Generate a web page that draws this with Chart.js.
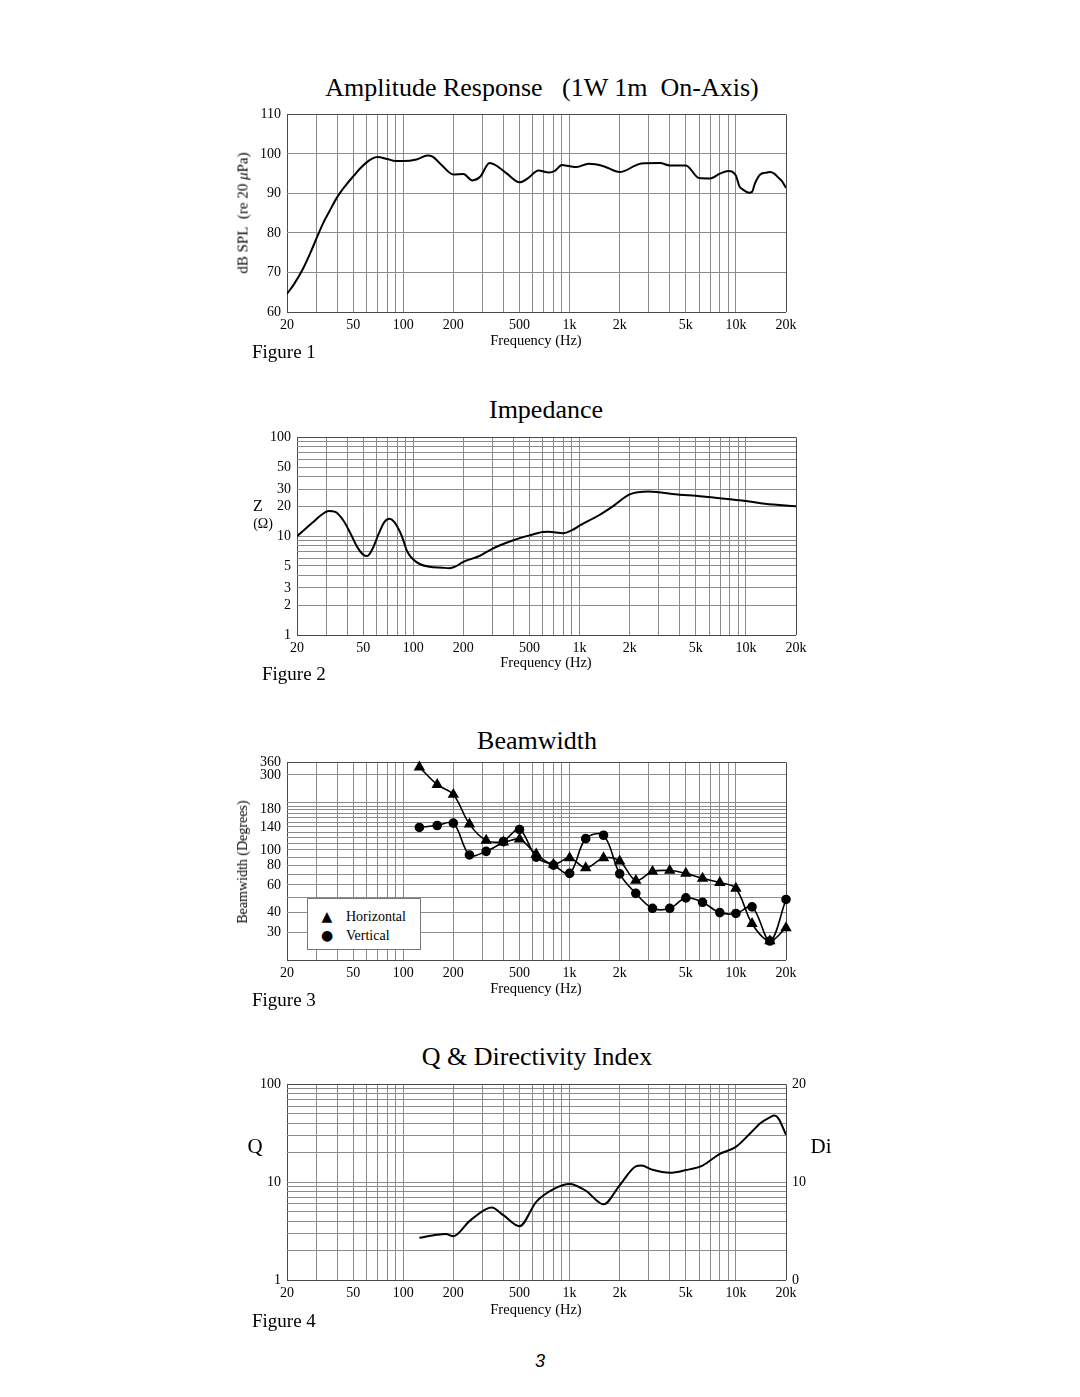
<!DOCTYPE html>
<html>
<head>
<meta charset="utf-8">
<script src="https://cdn.jsdelivr.net/npm/chart.js@4.4.1/dist/chart.umd.min.js"></script>
<style>
  body{margin:0;background:#fff;width:1080px;height:1397px;position:relative;overflow:hidden;
       font-family:'Liberation Serif','Times New Roman',serif;color:#000}
  .t{position:absolute;transform:translate(-50%,-50%);white-space:nowrap;line-height:1}
  .title{font-size:26px}
  .fig{position:absolute;font-size:19px;line-height:1;transform:translateY(-50%)}
  .freq{font-size:14.5px}
  .rot{transform:translate(-50%,-50%) rotate(-90deg);font-size:15px}
  .box{position:absolute}
  .legend{position:absolute;left:307px;top:898px;width:112px;height:50px;border:1px solid #777;background:#fff;z-index:2;font-size:14px}
  .legend div{position:absolute;left:0;white-space:nowrap;line-height:1}
  .legend span{display:inline-block;width:38px;text-align:center;font-family:'DejaVu Sans',sans-serif}
</style>
</head>
<body>

<div class="t title" style="left:542px;top:88px">Amplitude Response&nbsp;&nbsp; (1W 1m&nbsp; On-Axis)</div>
<div class="box" id="box-spl"><canvas id="chart-spl"></canvas></div>
<div class="t rot" style="left:243px;top:213px">dB SPL&nbsp; (re 20 <i>μ</i>Pa)</div>
<div class="t freq" style="left:536px;top:340px">Frequency (Hz)</div>
<div class="fig" style="left:252px;top:351px">Figure 1</div>

<div class="t title" style="left:546px;top:410px">Impedance</div>
<div class="box" id="box-z"><canvas id="chart-z"></canvas></div>
<div class="t" style="left:258px;top:506px;font-size:16px">Z</div>
<div class="t" style="left:263px;top:524px;font-size:14px">(Ω)</div>
<div class="t freq" style="left:546px;top:662px">Frequency (Hz)</div>
<div class="fig" style="left:262px;top:673px">Figure 2</div>

<div class="t title" style="left:537px;top:741px">Beamwidth</div>
<div class="box" id="box-bw"><canvas id="chart-bw"></canvas></div>
<div class="t rot" style="left:243px;top:862px;font-size:14px">Beamwidth (Degrees)</div>
<div class="legend">
  <div style="top:10px"><span>▲</span>Horizontal</div>
  <div style="top:29px"><span>●</span>Vertical</div>
</div>
<div class="t freq" style="left:536px;top:988px">Frequency (Hz)</div>
<div class="fig" style="left:252px;top:999px">Figure 3</div>

<div class="t title" style="left:537px;top:1057px">Q &amp; Directivity Index</div>
<div class="box" id="box-q"><canvas id="chart-q"></canvas></div>
<div class="t" style="left:255px;top:1146px;font-size:21px">Q</div>
<div class="t" style="left:821px;top:1146px;font-size:21px">Di</div>
<div class="t freq" style="left:536px;top:1309px">Frequency (Hz)</div>
<div class="fig" style="left:252px;top:1320px">Figure 4</div>

<div class="t" style="left:540px;top:1361px;font-size:18px;font-family:'Liberation Sans',sans-serif;font-style:italic">3</div>

<script>
// ── Frequency axis shared by the four figures ──
const FREQ_GRID    = [20,30,40,50,60,70,80,90,100,200,300,400,500,600,700,800,900,
                      1000,2000,3000,4000,5000,6000,7000,8000,9000,10000,20000];
const FREQ_LABELED = [20,50,100,200,500,1000,2000,5000,10000,20000];
const FREQ_TEXT    = ['20','50','100','200','500','1k','2k','5k','10k','20k'];

// ── Figure 1: amplitude response ──
const SPL_FREQ = [20,22,25,28,30,33,36,40,45,50,55,60,65,70,80,90,100,120,140,150,170,200,230,260,290,
                  330,370,420,500,560,650,750,820,900,1000,1100,1300,1600,2000,2500,2700,3500,4000,5000,
                  6000,7000,8000,9000,9500,10000,10500,11000,12000,12500,13000,14000,15000,16000,17000,18000,19000,20000];
const SPL_DB   = [64.6,67,71,75.5,78.5,82.5,85.5,89,92,94.3,96.3,97.8,98.8,99.2,98.7,98.2,98.2,98.6,99.6,99.3,97.2,94.8,94.9,93.3,94.2,
                  97.7,96.8,95,92.8,93.8,95.8,95.3,95.8,97.2,96.9,96.7,97.5,96.9,95.4,97.1,97.6,97.7,97.1,97.1,
                  93.9,93.8,95,95.7,95.5,94.5,91.8,91,90.2,90.4,92.5,94.8,95.2,95.4,95,94,93,91.4];
const SPL_GRID = [60,70,80,90,100,110];

// ── Figure 2: impedance ──
const Z_FREQ = [20,25,28,31,34,38,42,46,50,53,57,62,67,72,77,85,92,100,110,125,150,165,180,200,250,300,400,500,
                600,650,800,900,1000,1300,1600,2000,2600,3000,4000,5000,6000,8000,10000,13000,20000];
const Z_OHM  = [10,13.9,16.4,18,17.6,14.4,10.6,7.8,6.5,6.3,7.5,10.6,13.9,15,13.9,10.2,7,5.8,5.2,4.9,4.8,4.75,4.95,5.5,6.3,7.5,9.1,10.2,
                11,11.1,10.7,11.5,12.8,16.2,20.3,26.5,28.3,27.8,26.3,25.7,24.9,23.6,22.7,21.3,20.1];
const LOG_GRID  = [1,2,3,4,5,6,7,8,9,10,20,30,40,50,60,70,80,90,100];
const Z_LABELED = [1,2,3,5,10,20,30,50,100];

// ── Figure 3: beamwidth ──
const BW_FREQ  = [125,160,200,250,315,400,500,630,800,1000,1250,1600,2000,2500,3150,4000,5000,6300,8000,10000,12500,16000,20000];
const BW_HORIZ = [336,260,225,146,115,112,117,94,81,89,77,89,85,64,73,74,71,66,62,57,34,26.4,32];
const BW_VERT  = [139,143,148,93,98,113,135,90,80,71,118,124,70.5,53,42.6,42.6,49.6,46.5,40,39.5,43.5,26.4,48.5];
const BW_GRID    = [20,30,40,50,60,70,80,90,100,110,120,130,140,150,160,170,180,190,200,300,360];
const BW_LABELED = [30,40,60,80,100,140,180,300,360];

// ── Figure 4: Q & directivity index ──
const Q_FREQ = [125,160,180,200,250,315,340,400,500,630,800,1000,1250,1600,2000,2500,2700,3150,4000,5000,6300,
                8000,10000,12500,14000,16000,17000,18000,20000];
const Q_VAL  = [2.7,2.9,2.95,2.8,4.0,5.3,5.5,4.6,3.55,6.3,8.5,9.6,8.2,5.95,9.3,14.5,14.8,13.4,12.5,13.3,14.8,
                19.5,23,33,40,46,48,45,30.5];
const Q_LABELED = [1,10,100];
const DI_TICKS  = [0,10,20];

// ── Layout ──
const YW = 50, PT = 12, XH = 30;
const GRID  = '#8c8c8c';
const FRAME = '#4a4a4a';
const TICK_FONT = { family:"'Liberation Serif', 'Times New Roman', serif", size:14 };

function pts(xs, ys){ return xs.map((x,i)=>({x, y:ys[i]})); }

function place(id, p, pr){
  const el = document.getElementById(id);
  el.style.left   = (p.l - YW) + 'px';
  el.style.top    = (p.t - PT) + 'px';
  el.style.width  = (p.r - p.l + YW + pr) + 'px';
  el.style.height = (p.b - p.t + PT + XH) + 'px';
  return el.querySelector('canvas');
}

function edgeColor(c, min, max){
  const v = c.tick ? c.tick.value : null;
  return (v === min || v === max) ? FRAME : GRID;
}

function xAxis(){
  return {
    type:'logarithmic', min:20, max:20000,
    afterBuildTicks: s => { s.ticks = FREQ_GRID.map(v=>({value:v})); },
    afterFit: s => { s.height = XH; },
    grid:{ drawTicks:false, lineWidth:1, color: c => edgeColor(c,20,20000) },
    border:{ display:false },
    ticks:{ autoSkip:false, maxRotation:0, minRotation:0, padding:5, color:'#000', font:TICK_FONT,
      callback: v => { const i = FREQ_LABELED.indexOf(v); return i < 0 ? '' : FREQ_TEXT[i]; } }
  };
}

function yAxis(type, min, max, grid, labeled){
  return {
    type, min, max, position:'left',
    afterBuildTicks: s => { s.ticks = grid.map(v=>({value:v})); },
    afterFit: s => { s.width = YW; },
    grid:{ drawTicks:false, lineWidth:1, color: c => edgeColor(c,min,max) },
    border:{ display:false },
    ticks:{ autoSkip:false, padding:6, color:'#000', font:TICK_FONT,
      callback: v => labeled.includes(v) ? String(v) : '' }
  };
}

function baseOptions(pr, scales){
  return {
    responsive:true, maintainAspectRatio:false, animation:false,
    layout:{ padding:{ top:PT, right:pr, left:0, bottom:0 } },
    plugins:{ legend:{ display:false }, tooltip:{ enabled:false } },
    scales
  };
}

function curve(data, width){
  return { data, borderColor:'#000', borderWidth:width, pointRadius:0,
           cubicInterpolationMode:'monotone', fill:false };
}

// ── Figure 1 ──
new Chart(place('box-spl', {l:287, r:786, t:112, b:312}, 24), {
  type:'line',
  data:{ datasets:[ curve(pts(SPL_FREQ, SPL_DB), 2) ] },
  options: baseOptions(24, { x:xAxis(), y:yAxis('linear', 60, 110, SPL_GRID, SPL_GRID) })
});

// ── Figure 2 ──
new Chart(place('box-z', {l:297, r:796, t:435, b:635}, 24), {
  type:'line',
  data:{ datasets:[ curve(pts(Z_FREQ, Z_OHM), 2) ] },
  options: baseOptions(24, { x:xAxis(), y:yAxis('logarithmic', 1, 100, LOG_GRID, Z_LABELED) })
});

// ── Figure 3 ──
new Chart(place('box-bw', {l:287, r:786, t:760, b:960}, 24), {
  type:'line',
  data:{ datasets:[
    { data:pts(BW_FREQ, BW_HORIZ), borderColor:'#000', borderWidth:1.6, tension:0.35,
      pointStyle:'triangle', pointRadius:5, pointBackgroundColor:'#000', pointBorderColor:'#000', clip:8 },
    { data:pts(BW_FREQ, BW_VERT), borderColor:'#000', borderWidth:1.6, tension:0.35,
      pointStyle:'circle', pointRadius:4, pointBackgroundColor:'#000', pointBorderColor:'#000', clip:8 }
  ]},
  options: baseOptions(24, { x:xAxis(), y:yAxis('logarithmic', 20, 360, BW_GRID, BW_LABELED) })
});

// ── Figure 4 ──
const qOpts = baseOptions(0, {
  x: xAxis(),
  y: yAxis('logarithmic', 1, 100, LOG_GRID, Q_LABELED),
  y2:{
    type:'linear', position:'right', min:0, max:20,
    afterBuildTicks: s => { s.ticks = DI_TICKS.map(v=>({value:v})); },
    afterFit: s => { s.width = 30; },
    grid:{ display:false, drawTicks:false }, border:{ display:false },
    ticks:{ autoSkip:false, padding:6, color:'#000', font:TICK_FONT }
  }
});
new Chart(place('box-q', {l:287, r:786, t:1082, b:1280}, 30), {
  type:'line',
  data:{ datasets:[ curve(pts(Q_FREQ, Q_VAL), 2) ] },
  options: qOpts
});
</script>
</body>
</html>
